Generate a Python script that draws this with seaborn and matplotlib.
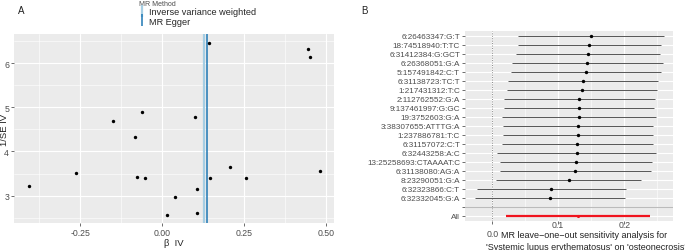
import matplotlib
matplotlib.use('Agg')
import matplotlib.pyplot as plt
from matplotlib.lines import Line2D
import seaborn as sns
import pandas as pd

# panel A: funnel plot values
beta_iv = [0.1415, 0.443, 0.449, -0.149, -0.061, 0.101, -0.082, -0.406, -0.262, -0.076,
           -0.053, 0.040, 0.014, 0.105, 0.106, 0.144, 0.205, 0.254, 0.479]
inv_se = [6.46, 6.33, 6.14, 4.68, 4.89, 4.77, 4.32, 3.22, 3.52, 3.43,
          3.40, 2.96, 2.57, 3.16, 2.61, 3.41, 3.64, 3.40, 3.55]
methods = ['Inverse variance weighted', 'MR Egger']
method_b = [0.128, 0.137]
method_colors = ['#a6cee3', '#1f78b4']

# panel B: leave-one-out values
snps = ['6:26463347:G:T', '18:74518940:T:TC', '6:31412384:G:GCT', '6:26368051:G:A',
        '5:157491842:C:T', '6:31138723:TC:T', '1:217431312:T:C', '2:112762552:G:A',
        '9:137461997:G:GC', '19:3752603:G:A', '3:38307655:ATTTG:A', '1:237886781:T:C',
        '6:31157072:C:T', '6:32443258:A:C', '13:25258693:CTAAAAT:C', '6:31138080:AG:A',
        '8:23290051:G:A', '6:32323866:C:T', '6:32332045:G:A']
loo_b = [0.149, 0.147, 0.1444, 0.1439, 0.1419, 0.1369, 0.1359, 0.1318, 0.1318, 0.1313,
         0.1298, 0.1293, 0.1288, 0.1278, 0.1263, 0.1247, 0.1157, 0.0889, 0.0869]
loo_lo = [0.0384, 0.0389, 0.0359, 0.0298, 0.0283, 0.0237, 0.0222, 0.0177, 0.0177, 0.0146,
          0.0157, 0.0157, 0.0141, 0.0076, 0.0116, 0.0111, 0.0061, -0.0237, -0.0263]
loo_hi = [0.260, 0.2556, 0.254, 0.2586, 0.2556, 0.2505, 0.250, 0.2465, 0.2455, 0.2485,
          0.2444, 0.2439, 0.2439, 0.248, 0.2414, 0.2399, 0.2258, 0.2020, 0.2005]
all_b, all_lo, all_hi = 0.1293, 0.0202, 0.2389

sns.set_theme(style='darkgrid', rc={'axes.facecolor': '#EBEBEB', 'grid.color': 'white'})
plt.rcParams['font.family'] = ['Liberation Sans', 'DejaVu Sans']
plt.rcParams['axes.unicode_minus'] = True
TXT = '#4D4D4D'

fig = plt.figure(figsize=(6.85, 2.51), dpi=100)
axA = fig.add_axes([0.0204, 0.1076, 0.4672, 0.7530])
axB = fig.add_axes([0.6788, 0.1155, 0.3037, 0.7582])

### A ###
funnel = pd.DataFrame({'b': beta_iv, 'ise': inv_se})
for m, v, c, lw in zip(methods, method_b, method_colors, [1.6, 1.1]):
    axA.axvline(v, color=c, lw=lw, zorder=2)
sns.scatterplot(data=funnel, x='b', y='ise', ax=axA, color='black', s=6,
                linewidth=0, zorder=3)
axA.set_xlim(-0.452, 0.523)
axA.set_ylim(2.38, 6.66)
axA.set_xticks([-0.25, 0, 0.25, 0.5])
axA.set_xticklabels(['-0.25', '0.00', '0.25', '0.50'])
axA.set_xticks([-0.375, -0.125, 0.125, 0.375], minor=True)
axA.set_yticks([3, 4, 5, 6])
axA.set_yticks([2.5, 3.5, 4.5, 5.5, 6.5], minor=True)
axA.set_xlabel('β  IV', fontsize=6.8, labelpad=1)
axA.set_ylabel('1/SE IV', fontsize=6.8, va='center')
axA.yaxis.set_label_coords(-0.031, 0.5, transform=axA.transAxes)

handles = [Line2D([], [], color=c, marker='|', linestyle='none', markersize=8,
                  markeredgewidth=lw) for c, lw in zip(method_colors, [1.6, 1.1])]
leg = fig.legend(handles, methods, loc='upper left', bbox_to_anchor=(0.198, 1.012),
                 frameon=False, title='MR Method', fontsize=6.6, title_fontsize=5,
                 handlelength=0.6, handletextpad=0.5, labelspacing=0.05,
                 borderaxespad=0, alignment='left')
leg.get_title().set_color(TXT)
fig.text(0.026, 0.945, 'A', fontsize=7, color='#222222')

### B ###
rows = snps + ['', 'All']
pos = list(range(len(rows)))
loo = pd.DataFrame({'SNP': snps, 'b': loo_b, 'lo': loo_lo, 'hi': loo_hi,
                    'y': pos[:len(snps)]})
axB.axvline(0, color='#888888', lw=0.7, linestyle=(0, (1, 1.5)), zorder=1)
axB.axhline(pos[len(snps)], color='#BBBBBB', lw=0.8, zorder=1)
axB.hlines(loo['y'], loo['lo'], loo['hi'], color='#555555', lw=0.7, zorder=2)
sns.scatterplot(data=loo, x='b', y='y', ax=axB, color='black', s=6, linewidth=0, zorder=3)
axB.hlines(pos[-1], all_lo, all_hi, color='#F0141E', lw=1.6, zorder=2)
sns.scatterplot(x=[all_b], y=[pos[-1]], ax=axB, color='#F0141E', s=5, linewidth=0, zorder=3)
axB.set_xlim(-0.0414, 0.274)
axB.set_ylim(len(rows) - 0.4, -0.55)
axB.set_yticks(pos)
axB.set_yticklabels(rows)
axB.set_xticks([0, 0.1, 0.2])
axB.set_xticklabels(['0.0', '0.1', '0.2'])
axB.set_xticks([0.05, 0.15, 0.25], minor=True)
axB.set_ylabel('')
# two-line x label, second line as its own text
axB.set_xlabel("MR leave\u2212one\u2212out sensitivity analysis for", fontsize=6.5)
axB.xaxis.set_label_coords(0.572, -0.047, transform=axB.transAxes)
axB.xaxis.label.set_va('top')
axB.text(0.58, -0.132, "'Systemic lupus erythematosus' on 'osteonecrosis'",
         transform=axB.transAxes, fontsize=6.5, ha='center', va='center',
         color='#222222')
fig.text(0.527, 0.945, 'B', fontsize=7, color='#222222')

for ax in (axA, axB):
    ax.grid(which='major', color='white', lw=0.8)
    ax.grid(which='minor', color='white', lw=0.4)
    ax.tick_params(which='major', labelsize=6.3, labelcolor=TXT, length=2, width=0.5,
                   color='#333333', pad=1.5, bottom=True, left=True)
    ax.tick_params(which='minor', length=0)
    for s in ax.spines.values():
        s.set_visible(False)
    ax.xaxis.label.set_color('#222222')
    ax.yaxis.label.set_color('#222222')
axB.tick_params(axis='y', labelsize=5.9, pad=1.5)
axB.tick_params(axis='x', pad=-2.5)
fig.canvas.draw()
axB.xaxis.get_major_ticks()[0].set_pad(3.5)

fig.savefig('out.png', dpi=100)
